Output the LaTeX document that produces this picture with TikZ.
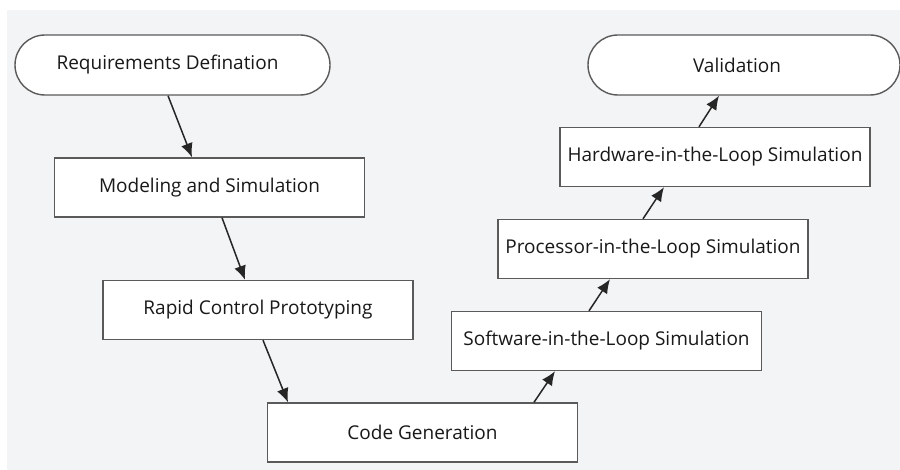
\documentclass[tikz,border=0pt]{standalone}
\usepackage{fontspec}
\setmainfont{Open Sans}
\usetikzlibrary{arrows.meta,shapes.misc}
\definecolor{paper}{HTML}{F3F4F6}
\definecolor{frame}{HTML}{5A5A5A}
\tikzset{
  stage/.style={draw=frame, line width=1.4pt, fill=white, rectangle,
    minimum width=310pt, minimum height=59pt, inner sep=0pt,
    text=black!90, font=\fontsize{19pt}{22pt}\selectfont},
  terminal/.style={stage, rounded rectangle, minimum width=315pt, minimum height=60pt},
  flow/.style={draw=black!85, line width=1.5pt, -{Latex[length=14pt,width=12pt]}}
}
\begin{document}
\begin{tikzpicture}[x=1pt,y=-1pt]
  \useasboundingbox (0,0) rectangle (900,470);
  \fill[paper] (7,10) rectangle (900,470);

  \node[terminal] (req) at (172.5,65) {\hspace*{-10pt}Requirements Defination};
  \node[stage] (mod) at (209.5,187.5) {Modeling and Simulation};
  \node[stage] (rcp) at (258,310) {Rapid Control Prototyping};
  \node[stage] (code) at (422.5,432.5) {Code Generation};
  \node[stage] (sil) at (606.5,341) {Software-in-the-Loop Simulation};
  \node[stage] (pil) at (653,249) {Processor-in-the-Loop Simulation};
  \node[stage] (hil) at (715,157) {Hardware-in-the-Loop Simulation};
  \node[terminal, minimum width=312pt] (val) at (744,65) {\hspace*{-14pt}Validation};

  \draw[flow] ([xshift=-4.5pt]req.south) -- ([xshift=-17.5pt]mod.north);
  \draw[flow] ([xshift=12.5pt]mod.south) -- ([xshift=-13pt]rcp.north);
  \draw[flow] ([xshift=5pt]rcp.south) -- ([xshift=-134.5pt]code.north);
  \draw[flow] ([xshift=111.5pt]code.north) -- ([xshift=-51.5pt]sil.south);
  \draw[flow] ([xshift=-17.5pt]sil.north) -- ([xshift=-43pt]pil.south);
  \draw[flow] ([xshift=-10pt]pil.north) -- ([xshift=-51pt]hil.south);
  \draw[flow] ([xshift=-16pt]hil.north) -- ([xshift=-25pt]val.south);
\end{tikzpicture}
\end{document}
